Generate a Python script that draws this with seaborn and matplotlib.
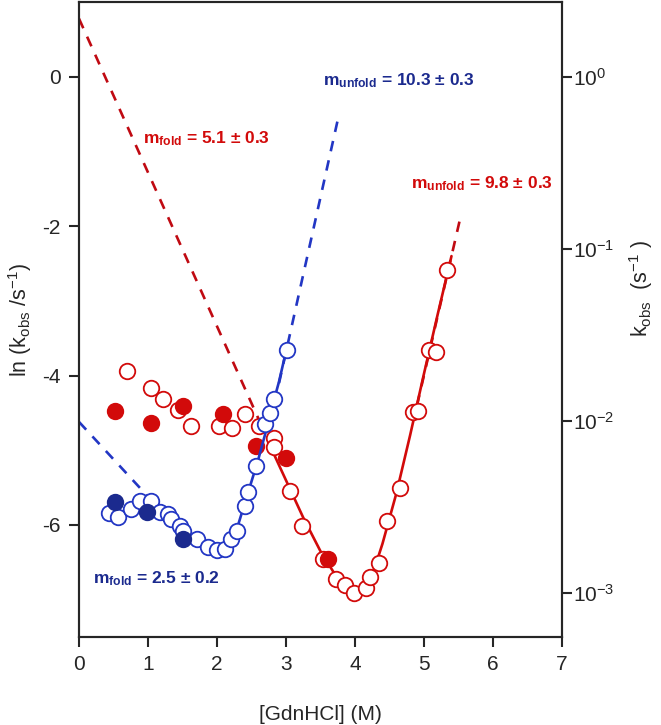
import numpy as np
import pandas as pd
import seaborn as sns
import matplotlib.pyplot as plt

# ---- data ----
# red series (open = one set, filled = other set)
red_open_x = [0.69, 1.04, 1.22, 1.44, 1.63, 2.03, 2.22, 2.41, 2.61, 2.82, 2.82, 3.06, 3.24, 3.54,
              3.73, 3.86, 3.98, 4.16, 4.22, 4.35, 4.47, 4.65, 4.84, 4.92, 5.08, 5.17, 5.33]
red_open_y = [-3.94, -4.17, -4.31, -4.46, -4.67, -4.67, -4.70, -4.52, -4.68, -4.83, -4.96, -5.54, -6.01, -6.45,
              -6.73, -6.80, -6.91, -6.84, -6.70, -6.51, -5.95, -5.50, -4.49, -4.48, -3.66, -3.69, -2.59]
red_fill_x = [0.52, 1.04, 1.51, 2.09, 2.57, 3.00, 3.61]
red_fill_y = [-4.48, -4.63, -4.41, -4.51, -4.94, -5.10, -6.46]

# blue series
blue_open_x = [0.43, 0.57, 0.76, 0.88, 1.05, 1.17, 1.29, 1.34, 1.46, 1.51, 1.71, 1.87, 2.00, 2.12,
               2.21, 2.29, 2.41, 2.45, 2.57, 2.70, 2.77, 2.82, 3.01]
blue_open_y = [-5.84, -5.90, -5.79, -5.68, -5.68, -5.82, -5.85, -5.92, -6.01, -6.08, -6.19, -6.30, -6.34, -6.32,
               -6.19, -6.08, -5.74, -5.56, -5.21, -4.65, -4.50, -4.32, -3.66]
blue_fill_x = [0.52, 0.98, 1.51]
blue_fill_y = [-5.69, -5.82, -6.19]

# fitted curves (solid) and arm extrapolations (dashed)
red_fit_x = [2.75, 3.0, 3.25, 3.5, 3.75, 3.9, 4.0, 4.1, 4.25, 4.4, 4.6, 4.8, 5.0, 5.2, 5.4]
red_fit_y = [-4.90, -5.40, -5.90, -6.35, -6.72, -6.87, -6.92, -6.88, -6.68, -6.25, -5.58, -4.80, -3.98, -3.18, -2.40]
red_fold_x = [0.0, 2.70]
red_fold_y = [0.78, -4.78]
red_unfold_x = [4.9, 5.52]
red_unfold_y = [-4.40, -1.92]

blue_fit_x = [3.02, 2.9, 2.8, 2.7, 2.6, 2.5, 2.4, 2.3, 2.2, 2.12]
blue_fit_y = [-3.60, -4.08, -4.42, -4.78, -5.12, -5.42, -5.72, -6.02, -6.25, -6.35]
blue_fold_x = [0.0, 1.0]
blue_fold_y = [-4.62, -5.62]
blue_unfold_x = [2.9, 3.76]
blue_unfold_y = [-4.10, -0.54]

right_exp = [0, -1, -2, -3]

red = '#d20a0a'
red_dash = '#c00a12'
blue = '#2236c4'
navy = '#1b2a8e'

sns.set_style("ticks")
plt.rcParams['font.family'] = ['Liberation Sans', 'DejaVu Sans']
plt.rcParams['mathtext.fontset'] = 'custom'
plt.rcParams['mathtext.rm'] = 'Liberation Sans'
plt.rcParams['mathtext.it'] = 'Liberation Sans:italic'
plt.rcParams['mathtext.bf'] = 'Liberation Sans:bold'
plt.rcParams['axes.unicode_minus'] = False

fig = plt.figure(figsize=(6.61, 7.25), dpi=100)
ax = fig.add_axes([0.1195, 0.1214, 0.7305, 0.8756])

dash = (0, (4, 3.5))
lw = 1.9

# red
sns.lineplot(x=red_fold_x, y=red_fold_y, ax=ax, color=red_dash, linestyle=dash, lw=lw, sort=False, zorder=2)
sns.lineplot(x=red_unfold_x, y=red_unfold_y, ax=ax, color=red_dash, linestyle=dash, lw=lw, sort=False, zorder=2)
sns.lineplot(x=red_fit_x, y=red_fit_y, ax=ax, color=red, lw=lw, sort=False, zorder=2)
sns.scatterplot(x=red_open_x, y=red_open_y, ax=ax, s=125, facecolor='white', edgecolor=red, linewidth=1.3, zorder=3)
sns.scatterplot(x=red_fill_x, y=red_fill_y, ax=ax, s=125, color=red, edgecolor=red, linewidth=1.3, zorder=4)

# blue
sns.lineplot(x=blue_fold_x, y=blue_fold_y, ax=ax, color=blue, linestyle=dash, lw=lw, sort=False, zorder=5)
sns.lineplot(x=blue_unfold_x, y=blue_unfold_y, ax=ax, color=blue, linestyle=dash, lw=lw, sort=False, zorder=5)
sns.lineplot(x=blue_fit_x, y=blue_fit_y, ax=ax, color=blue, lw=lw, sort=False, zorder=5)
sns.scatterplot(x=blue_open_x, y=blue_open_y, ax=ax, s=125, facecolor='white', edgecolor=blue, linewidth=1.3, zorder=6)
sns.scatterplot(x=blue_fill_x, y=blue_fill_y, ax=ax, s=125, color=navy, edgecolor=navy, linewidth=1.3, zorder=7)

# annotations
fs_note = 12.5
ax.text(0.93, -0.83, r"$\mathbf{m_{fold}}$ = 5.1 ± 0.3", color=red, fontsize=fs_note, fontweight='bold', va='center')
ax.text(3.54, -0.05, r"$\mathbf{m_{unfold}}$ = 10.3 ± 0.3", color=navy, fontsize=fs_note, fontweight='bold', va='center')
ax.text(4.82, -1.43, r"$\mathbf{m_{unfold}}$ = 9.8 ± 0.3", color=red, fontsize=fs_note, fontweight='bold', va='center')
ax.text(0.20, -6.72, r"$\mathbf{m_{fold}}$ = 2.5 ± 0.2", color=navy, fontsize=fs_note, fontweight='bold', va='center')

ax.set_xlim(0, 7)
ax.set_ylim(-7.5, 1.0)
ax.set_xticks(range(0, 8))
ax.set_yticks([0, -2, -4, -6])
ax.set_xlabel("[GdnHCl] (M)", fontsize=15, labelpad=22)
ax.set_ylabel(r"ln (k$_{\rm obs}$ /s$^{-1}$)", fontsize=15.5, labelpad=6)
ax.tick_params(labelsize=15, length=7, width=1.5, direction='out', pad=6)
for s in ax.spines.values():
    s.set_linewidth(1.5)
    s.set_visible(True)

ax2 = ax.twinx()
ax2.set_ylim(ax.get_ylim())
ax2.set_yticks([np.log(10.0 ** k) for k in right_exp])
ax2.set_yticklabels([r"$10^{%d}$" % k for k in right_exp])
ax2.tick_params(labelsize=15, length=7, width=1.5, direction='out', pad=1)
ax2.set_ylabel(r"k$_{\rm obs}$  (s$^{-1}$ )", fontsize=15.5)
ax2.yaxis.set_label_coords(1.135, 0.55)
for s in ax2.spines.values():
    s.set_linewidth(1.5)

fig.savefig("out.png", dpi=100)
